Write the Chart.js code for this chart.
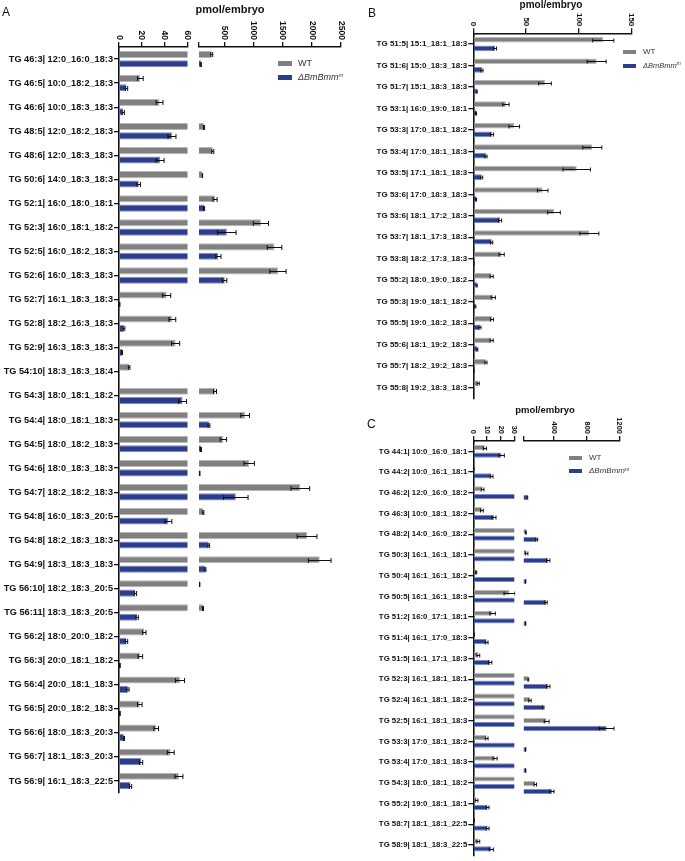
<!DOCTYPE html>
<html><head><meta charset="utf-8">
<script src="https://cdn.jsdelivr.net/npm/chart.js@4.4.1/dist/chart.umd.min.js"></script>
<style>
body{margin:0;background:#fff;width:685px;height:861px;position:relative;overflow:hidden;font-family:"Liberation Sans",Arial,sans-serif;}
.c{position:absolute;}
.t{position:absolute;white-space:nowrap;color:#111;line-height:1;}
.ttl{font-weight:bold;transform:translateX(-50%);}
.box{position:absolute;}
.lgt{position:absolute;white-space:nowrap;color:#333;font-size:9px;line-height:9px;}
sup{font-size:0.65em;vertical-align:top;position:relative;top:-2px;}
</style></head><body>

<div class="c" style="left:0;top:0"><canvas id="aL" width="194" height="800"></canvas></div>
<div class="c" style="left:190px;top:0"><canvas id="aR" width="159" height="800"></canvas></div>
<div class="c" style="left:350px;top:0"><canvas id="bC" width="290" height="405"></canvas></div>
<div class="c" style="left:350px;top:394px"><canvas id="cL" width="168" height="467"></canvas></div>
<div class="c" style="left:515px;top:394px"><canvas id="cR" width="130" height="467"></canvas></div>

<div class="t" style="left:2px;top:6px;font-size:12px;">A</div>
<div class="t" style="left:368px;top:7px;font-size:12px;">B</div>
<div class="t" style="left:367px;top:418px;font-size:12px;">C</div>

<div class="t ttl" style="left:230px;top:4px;font-size:11px;">pmol/embryo</div>
<div class="t ttl" style="left:551px;top:0px;font-size:10px;">pmol/embryo</div>
<div class="t ttl" style="left:545px;top:405px;font-size:9.5px;">pmol/embryo</div>

<div class="box" style="left:278px;top:61px;width:14px;height:5px;background:#808080"></div>
<div class="lgt" style="left:298px;top:59px;">WT</div>
<div class="box" style="left:278px;top:75px;width:14px;height:5px;background:#2d3d8c"></div>
<div class="lgt" style="left:298px;top:73px;font-style:italic;">ΔBmBmm<sup>m</sup></div>

<div class="box" style="left:623px;top:50px;width:13px;height:4px;background:#808080"></div>
<div class="lgt" style="left:643px;top:48px;font-size:8px;line-height:8px;">WT</div>
<div class="box" style="left:623px;top:64px;width:13px;height:4px;background:#2d3d8c"></div>
<div class="lgt" style="left:643px;top:62px;font-size:7.5px;line-height:8px;font-style:italic;">ΔBmBmm<sup>m</sup></div>

<div class="box" style="left:569px;top:456px;width:13px;height:4px;background:#808080"></div>
<div class="lgt" style="left:589px;top:454px;font-size:8px;line-height:8px;">WT</div>
<div class="box" style="left:569px;top:469px;width:13px;height:4px;background:#2d3d8c"></div>
<div class="lgt" style="left:589px;top:467px;font-size:8px;line-height:8px;font-style:italic;">ΔBmBmm<sup>m</sup></div>

<script>
// ---------- Panel A ----------
const aLabels = ["TG 46:3| 12:0_16:0_18:3","TG 46:5| 10:0_18:2_18:3","TG 46:6| 10:0_18:3_18:3","TG 48:5| 12:0_18:2_18:3","TG 48:6| 12:0_18:3_18:3","TG 50:6| 14:0_18:3_18:3","TG 52:1| 16:0_18:0_18:1","TG 52:3| 16:0_18:1_18:2","TG 52:5| 16:0_18:2_18:3","TG 52:6| 16:0_18:3_18:3","TG 52:7| 16:1_18:3_18:3","TG 52:8| 18:2_16:3_18:3","TG 52:9| 16:3_18:3_18:3","TG 54:10| 18:3_18:3_18:4","TG 54:3| 18:0_18:1_18:2","TG 54:4| 18:0_18:1_18:3","TG 54:5| 18:0_18:2_18:3","TG 54:6| 18:0_18:3_18:3","TG 54:7| 18:2_18:2_18:3","TG 54:8| 16:0_18:3_20:5","TG 54:8| 18:2_18:3_18:3","TG 54:9| 18:3_18:3_18:3","TG 56:10| 18:2_18:3_20:5","TG 56:11| 18:3_18:3_20:5","TG 56:2| 18:0_20:0_18:2","TG 56:3| 20:0_18:1_18:2","TG 56:4| 20:0_18:1_18:3","TG 56:5| 20:0_18:2_18:3","TG 56:6| 18:0_18:3_20:3","TG 56:7| 18:1_18:3_20:3","TG 56:9| 16:1_18:3_22:5"];
const aWT    = [279,18.7,35.5,146,296,117,336,1124,1358,1417,41.8,46.7,49.6,8.9,336,853,479,922,1801,134,1917,2134,72,129,22.2,18.7,53.4,18.2,32.6,45.3,52.5];
const aWTerr = [17,2.5,3,10,17,5,35,130,125,140,3.5,3,3.5,0.7,25,75,55,90,160,10,170,195,3,8,1.5,2,4,2,2,3,3.5];
const aKO    = [95,6.6,3.7,46.4,36,17.3,146,538,393,503,0.5,4.3,2.6,0,55.7,232,95,72,693,43.3,227,169,14.4,15.9,6.6,0.8,7.8,0.8,4.3,19.3,10.1];
const aKOerr = [5,1,1,3.5,3.5,1.5,10,160,45,35,0.3,0.8,0.5,0,3.5,15,8,5,210,3,15,10,1,1,1,0.3,1,0.3,0.5,1.5,1];
const aTicksLow  = [0,20,40,60];
const aTicksHigh = [60,500,1000,1500,2000,2500];

// ---------- Panel B ----------
const bLabels = ["TG 51:5| 15:1_18:1_18:3","TG 51:6| 15:0_18:3_18:3","TG 51:7| 15:1_18:3_18:3","TG 53:1| 16:0_19:0_18:1","TG 53:3| 17:0_18:1_18:2","TG 53:4| 17:0_18:1_18:3","TG 53:5| 17:1_18:1_18:3","TG 53:6| 17:0_18:3_18:3","TG 53:6| 18:1_17:2_18:3","TG 53:7| 18:1_17:3_18:3","TG 53:8| 18:2_17:3_18:3","TG 55:2| 18:0_19:0_18:2","TG 55:3| 19:0_18:1_18:2","TG 55:5| 19:0_18:2_18:3","TG 55:6| 18:1_19:2_18:3","TG 55:7| 18:2_19:2_18:3","TG 55:8| 19:2_18:3_18:3"];
const bWT    = [123.1,116.8,67.9,30.9,38.8,112.7,97.9,65.7,76.4,109.9,26.8,17.4,18.9,17.7,17.4,12,4.7];
const bWTerr = [10,9,6,3,5,9,13,5,6,9,2.5,1.5,2,1.5,1.5,1,1];
const bKO    = [20.5,8.2,3.2,2.5,17.7,12,7.9,2.5,25.3,17.4,0.5,3.2,1.9,6.3,3.8,0.5,0];
const bKOerr = [1.5,1,0.5,0.5,1.5,1,1,0.5,1.5,1,0.2,0.5,0.5,1,0.5,0.2,0];
const bTicks = [0,50,100,150];

// ---------- Panel C ----------
const cLabels = ["TG 44:1| 10:0_16:0_18:1","TG 44:2| 10:0_16:1_18:1","TG 46:2| 12:0_16:0_18:2","TG 46:3| 10:0_18:1_18:2","TG 48:2| 14:0_16:0_18:2","TG 50:3| 16:1_16:1_18:1","TG 50:4| 16:1_16:1_18:2","TG 50:5| 16:1_16:1_18:3","TG 51:2| 16:0_17:1_18:1","TG 51:4| 16:1_17:0_18:3","TG 51:5| 16:1_17:1_18:3","TG 52:3| 16:1_18:1_18:1","TG 52:4| 16:1_18:1_18:2","TG 52:5| 16:1_18:1_18:3","TG 53:3| 17:0_18:1_18:2","TG 53:4| 17:0_18:1_18:3","TG 54:3| 18:0_18:1_18:2","TG 55:2| 19:0_18:1_18:1","TG 58:7| 18:1_18:1_22:5","TG 58:9| 18:1_18:3_22:5"];
const cWT    = [8.5,0.3,6.8,6.3,57,65,2,26.5,14.1,0.5,3.7,85,106,310,9.8,15.9,171,2.4,0.5,3.7];
const cWTerr = [1.2,0.2,1,1,3,15,0.5,4,2,0.2,1,5,15,30,1,1.5,15,1,0.2,1];
const cKO    = [20.7,13.4,73,15.1,188,330,53,302,53,9.8,12.4,330,269,1045,53,53,375,10.5,10.5,13.2];
const cKOerr = [2,1,5,1.5,12,20,2,15,2,1,1.2,20,8,90,2,2,25,1,1,1.5];
const cTicksLow  = [0,10,20,30];
const cTicksHigh = [30,400,800,1200];

const FAM = '"Liberation Sans", Arial, sans-serif';
const GRAY = '#808080', GRAYB = '#b8b8b8', BLUE = '#2d3d8c', BLUEB = '#7d8cc8';

const vLabels = {
  id: 'vLabels',
  afterDraw(chart, args, o) {
    const s = chart.scales.x, ctx = chart.ctx;
    ctx.save();
    ctx.font = 'bold ' + o.size + 'px ' + FAM;
    ctx.fillStyle = '#111';
    ctx.textAlign = 'right';
    ctx.textBaseline = 'middle';
    s.ticks.forEach((t, i) => {
      if (o.hideFirst && i === 0) return;
      const x = s.getPixelForValue(t.value);
      ctx.save();
      ctx.translate(x, chart.chartArea.top - 7);
      ctx.rotate(Math.PI / 2);
      ctx.fillText(String(t.value), 0, 0);
      ctx.restore();
    });
    ctx.restore();
  }
};

const errBars = {
  id: 'errBars',
  afterDatasetsDraw(chart, args, o) {
    const ctx = chart.ctx, xs = chart.scales.x, a = chart.chartArea;
    ctx.save();
    ctx.beginPath();
    ctx.rect(a.left - 1, a.top, a.right - a.left + 2, a.bottom - a.top);
    ctx.clip();
    ctx.strokeStyle = '#111';
    ctx.lineWidth = 1;
    chart.data.datasets.forEach((ds, di) => {
      const meta = chart.getDatasetMeta(di);
      meta.data.forEach((bar, j) => {
        const v = ds.data[j], e = ds.err[j];
        if (!e || v < xs.min || v > xs.max) return;
        const y = Math.round(bar.y) + 0.5;
        const x1 = xs.getPixelForValue(v - e), x2 = xs.getPixelForValue(v + e), h = o.cap;
        ctx.beginPath();
        ctx.moveTo(x1, y); ctx.lineTo(x2, y);
        ctx.moveTo(x1, y - h); ctx.lineTo(x1, y + h);
        ctx.moveTo(x2, y - h); ctx.lineTo(x2, y + h);
        ctx.stroke();
      });
    });
    ctx.restore();
  }
};

function build(id, labels, wt, wtErr, ko, koErr, o) {
  const ctx = document.getElementById(id);
  return new Chart(ctx, {
    type: 'bar',
    data: {
      labels: labels,
      datasets: [
        { label: 'WT', data: wt, err: wtErr, backgroundColor: GRAY, borderColor: GRAYB, borderWidth: 1, clip: 0,
          barPercentage: o.barPct, categoryPercentage: o.catPct },
        { label: 'ΔBmBmm', data: ko, err: koErr, backgroundColor: BLUE, borderColor: BLUEB, borderWidth: 1, clip: 0,
          barPercentage: o.barPct, categoryPercentage: o.catPct }
      ]
    },
    options: {
      indexAxis: 'y',
      responsive: false,
      animation: false,
      devicePixelRatio: 1,
      layout: { padding: o.pad },
      plugins: {
        legend: { display: false },
        tooltip: { enabled: false },
        vLabels: { size: o.tickSize, hideFirst: o.hideFirst },
        errBars: { cap: o.cap }
      },
      scales: {
        x: {
          type: 'linear', position: 'top', min: o.min, max: o.max,
          afterBuildTicks: s => { s.ticks = o.ticks.map(v => ({ value: v })); },
          afterFit: s => { s.height = o.xHeight; },
          ticks: { display: false },
          grid: { drawOnChartArea: false, drawTicks: true, tickLength: 5, color: '#111', lineWidth: 1.3 },
          border: { display: true, color: '#111', width: 1.5 }
        },
        y: {
          type: 'category',
          display: o.yWidth ? true : false,
          afterFit: s => { if (o.yWidth) s.width = o.yWidth; },
          grid: { offset: false, drawOnChartArea: false, drawTicks: true, tickLength: 5, color: '#111', lineWidth: 1.3 },
          border: { display: true, color: '#111', width: 1.6 },
          ticks: { autoSkip: false, padding: 1, color: '#111', font: { family: FAM, size: o.labelSize, weight: 'bold' } }
        }
      }
    },
    plugins: [errBars, vLabels]
  });
}

build('aL', aLabels, aWT, aWTerr, aKO, aKOerr, {
  min: 0, max: 60, ticks: aTicksLow, hideFirst: false, yWidth: 119, xHeight: 47,
  pad: { left: 0, right: 6.5, top: 0, bottom: 7 }, labelSize: 9.2, tickSize: 8.5, cap: 2.5, catPct: 0.78, barPct: 0.76
});
build('aR', aLabels, aWT, aWTerr, aKO, aKOerr, {
  min: 60, max: 2500, ticks: aTicksHigh, hideFirst: true, yWidth: 0, xHeight: 47,
  pad: { left: 9, right: 8, top: 0, bottom: 7 }, labelSize: 9.2, tickSize: 8.5, cap: 2.5, catPct: 0.78, barPct: 0.76
});
build('bC', bLabels, bWT, bWTerr, bKO, bKOerr, {
  min: 0, max: 150, ticks: bTicks, hideFirst: false, yWidth: 123.3, xHeight: 33.3,
  pad: { left: 0, right: 8.3, top: 0, bottom: 6.7 }, labelSize: 8, tickSize: 8, cap: 2, catPct: 0.8, barPct: 0.66
});
build('cL', cLabels, cWT, cWTerr, cKO, cKOerr, {
  min: 0, max: 30, ticks: cTicksLow, hideFirst: false, yWidth: 123.3, xHeight: 47,
  pad: { left: 0, right: 3.7, top: 0, bottom: 0 }, labelSize: 7.8, tickSize: 7.5, cap: 2, catPct: 0.74, barPct: 0.68
});
build('cR', cLabels, cWT, cWTerr, cKO, cKOerr, {
  min: 30, max: 1200, ticks: cTicksHigh, hideFirst: true, yWidth: 0, xHeight: 47,
  pad: { left: 8.8, right: 25.7, top: 0, bottom: 0 }, labelSize: 7.8, tickSize: 7.5, cap: 2, catPct: 0.74, barPct: 0.68
});
</script>
</body></html>
